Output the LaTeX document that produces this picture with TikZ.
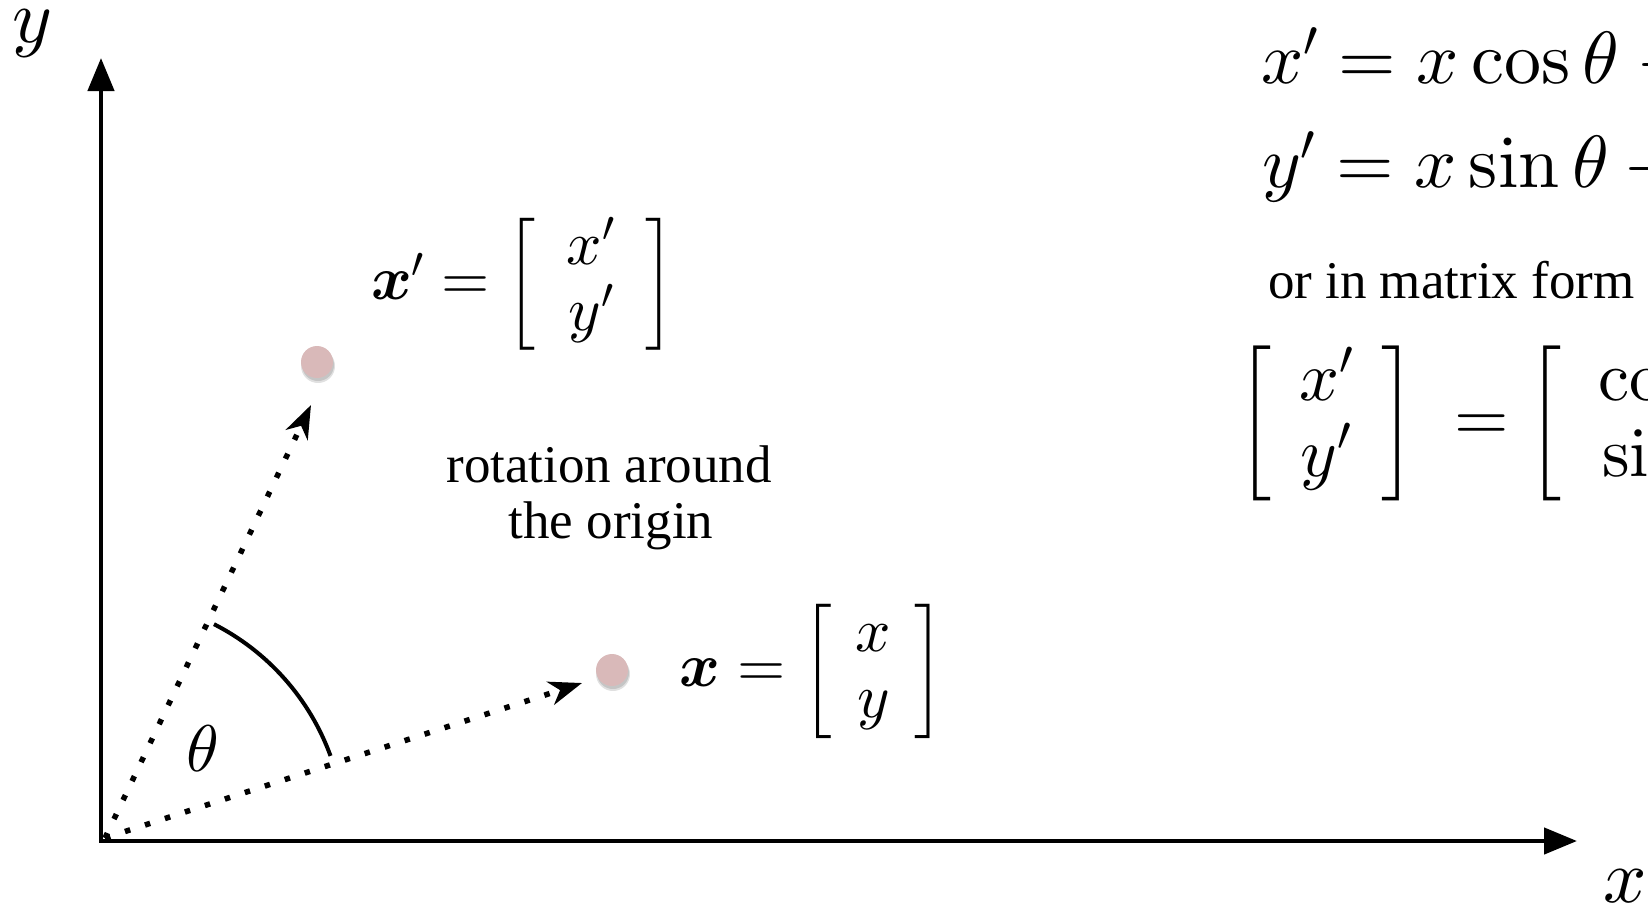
\documentclass[tikz,border=0pt]{standalone}
\usepackage{amsmath}
\usepackage[no-math]{fontspec}
\newfontfamily\capfont{Liberation Serif}
\DeclareFontShape{OT1}{cmr}{m}{n}{<-> cmr10}{}
\DeclareFontShape{OT1}{cmr}{bx}{n}{<-> cmbx10}{}
\DeclareFontShape{OML}{cmm}{m}{it}{<-> cmmi10}{}
\DeclareFontShape{OML}{cmm}{b}{it}{<-> cmmib10}{}
\DeclareFontShape{OMS}{cmsy}{m}{n}{<-> cmsy10}{}
\DeclareFontShape{OMS}{cmsy}{b}{n}{<-> cmbsy10}{}
\DeclareFontShape{OMX}{cmex}{m}{n}{<-> cmex10}{}
% bracket of a chosen size (font size #1), centred on the math axis
\newcommand{\bkt}[2]{\vcenter{\hbox{\fontsize{#1}{#1}\selectfont$\nulldelimiterspace=0pt\left#2\vcenter to 2.3em{}\right.$}}}
\newcommand{\bkL}[1]{\mathopen{\bkt{#1}{[}}}
\newcommand{\bkR}[1]{\mathclose{\bkt{#1}{]}}}
\usetikzlibrary{arrows.meta,calc}
\definecolor{dotpink}{RGB}{217,185,185}
\tikzset{
  axis/.style={line width=4.5pt, {Triangle[length=33pt,width=26pt]}-{Triangle[length=33pt,width=26pt]}},
  dotline/.style={line width=5.5pt, dash pattern=on 5.5pt off 15.5pt, -{Stealth[length=33pt,width=24pt,inset=10pt]}},
  ptdot/.style={circle, fill=dotpink, minimum size=32pt, inner sep=0pt},
  lab/.style={inner sep=0pt, outer sep=0pt},
  axlab/.style={lab, font=\fontsize{76}{80}\selectfont},
  smallmath/.style={lab, anchor=west, font=\fontsize{62}{66}\selectfont},
  caption/.style={lab, anchor=base, font=\capfont\fontsize{53}{56}\selectfont},
  bigmath/.style={lab, anchor=base west, font=\fontsize{74}{80}\selectfont},
}
\begin{document}
\begin{tikzpicture}[x=1pt,y=-1pt]
\useasboundingbox (0,0) rectangle (1648,905);
\clip (0,0) rectangle (1648,905);
% axes
\coordinate (org) at (101,841);
\coordinate (ytip) at (101,58);
\coordinate (xtip) at (1577,841);
\draw[axis] (ytip) -- (org) -- (xtip);
\node[axlab] (ylab) at (32,34) {$y$};
\node[axlab] (xlab) at (1625,886) {$x$};
% vectors
\coordinate (o) at (105,838);
\coordinate (xptip) at (311,405);
\coordinate (xvtip) at (582,683);
\draw[dotline] (o) -- (xptip);
\draw[dotline] (o) -- (xvtip);
% points with soft shadow
\fill[black, opacity=.12] (318,366) circle[radius=17];
\fill[black, opacity=.12] (318,365) circle[radius=16];
\fill[black, opacity=.12] (613,674) circle[radius=17];
\fill[black, opacity=.12] (613,673) circle[radius=16];
\node[ptdot] (xp) at (317,362) {};
\node[ptdot] (xv) at (612,670) {};
% angle arc
\draw[line width=4pt] ($(o)+(-20:240)$) arc[start angle=-20, end angle=-63, radius=240];
\node[lab, font=\fontsize{66}{70}\selectfont] (theta) at (203,749) {$\theta$};
% point labels
\node[smallmath] (xpeq) at (371,284) {\arraycolsep=.5em $\boldsymbol{x}'=\bkL{55}\begin{array}{c} x'\\ y'\end{array}\bkR{55}$};
\node[smallmath] (xeq) at (679,671) {\arraycolsep=.38em $\boldsymbol{x}=\bkL{56}\begin{array}{c} x\\ y\end{array}\bkR{56}$};
\node[caption] (rot1) at (609,482) {rotation around};
\node[caption] (rot2) at (611,538) {the origin};
% equations
\node[bigmath] (eq1) at (1261,83) {$x'=x\cos\theta-y\sin\theta$};
\node[bigmath] (eq2) at (1262,187) {$y'=x\sin\theta+y\cos\theta$};
\node[lab, anchor=base west, font=\capfont\fontsize{53}{56}\selectfont] (orin) at (1268,298) {or in matrix form};
\node[lab, anchor=west, font=\fontsize{70}{76}\selectfont] (mat) at (1237,423) {\arraycolsep=.4em $\bkL{64.6}\begin{array}{c} x'\\ y'\end{array}\bkR{64.6}\;=\bkL{64.6}{\arraycolsep=.52em\begin{array}{cc}\cos\theta & -\sin\theta\\ \sin\theta & \cos\theta\end{array}}\bkR{64.6}\bkL{64.6}\begin{array}{c} x\\ y\end{array}\bkR{64.6}$};
\end{tikzpicture}
\end{document}
